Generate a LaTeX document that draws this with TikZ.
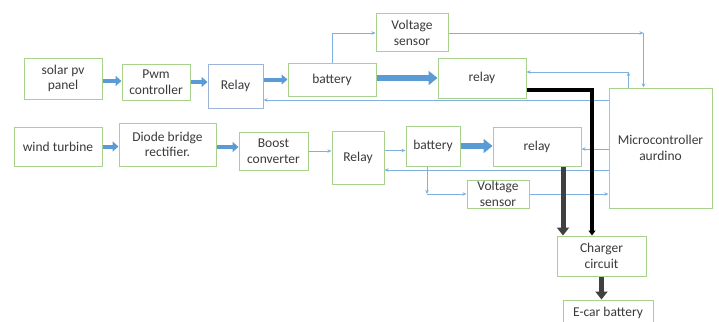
\documentclass[tikz,border=0pt]{standalone}
\usepackage{fontspec}
\setmainfont{Carlito}
\usetikzlibrary{arrows.meta,calc}
\definecolor{gbord}{HTML}{A9D18E}
\definecolor{bbord}{HTML}{9DB3D9}
\definecolor{ablue}{HTML}{5B9BD5}
\definecolor{lblue}{HTML}{7FB0E0}
\definecolor{dgray}{HTML}{404040}
\definecolor{txt}{HTML}{3A3A3A}
\begin{document}
\begin{tikzpicture}[x=1pt,y=-1pt,
 box/.style={draw=gbord, line width=1pt, fill=white, inner sep=0pt, align=center, font=\fontsize{13.5}{15.5}\selectfont, text=txt},
 thinarr/.style={draw=lblue, line width=0.8pt, -{Stealth[length=4pt,width=3.5pt]}},
 fatblue/.style={draw=ablue, line width=4pt, -{Triangle[length=6pt,width=10pt]}},
 hugeblue/.style={draw=ablue, line width=6.5pt, -{Triangle[length=9pt,width=14pt]}},
 blkarr/.style={draw=black, line width=3.5pt, -{Triangle[length=5pt,width=7pt]}},
 grayarr/.style={draw=dgray, line width=5pt, -{Triangle[length=8pt,width=12pt]}},
]
\useasboundingbox (0,0) rectangle (719,321);
\fill[white] (0,0) rectangle (719,321);

% row 1
\node[box, minimum width=78pt, minimum height=41pt] (solar) at (63,78.5) {solar pv\\panel};
\node[box, minimum width=68pt, minimum height=36pt] (pwm) at (156,82) {Pwm\\controller};
\node[box, draw=bbord, minimum width=55pt, minimum height=44pt] (relayA) at (235.5,86) {Relay};
\node[box, minimum width=88pt, minimum height=33pt] (batA) at (332,79.5) {battery};
\node[box, minimum width=72pt, minimum height=38pt] (vsA) at (412,33) {Voltage\\sensor};
\node[box, minimum width=88pt, minimum height=40pt] (relA) at (482,78) {relay};
\node[box, minimum width=103pt, minimum height=120pt] (micro) at (660.5,148) {Microcontroller\\aurdino};

% row 2
\node[box, minimum width=88pt, minimum height=39pt] (wind) at (58,146.5) {wind turbine};
\node[box, minimum width=97pt, minimum height=43pt] (diode) at (167.5,144.5) {Diode bridge\\rectifier.};
\node[box, minimum width=69pt, minimum height=38pt] (boost) at (273.5,151) {Boost\\converter};
\node[box, minimum width=52pt, minimum height=53pt] (relayB) at (358,157.5) {Relay};
\node[box, minimum width=54pt, minimum height=40pt] (batB) at (433,146) {battery};
\node[box, minimum width=88pt, minimum height=39pt] (relB) at (537,146.5) {relay};
\node[box, minimum width=62pt, minimum height=28pt] (vsB) at (498,194) {Voltage\\sensor};
\node[box, minimum width=89pt, minimum height=40pt] (charger) at (601.5,256) {Charger\\circuit};
\node[box, minimum width=90pt, minimum height=26pt] (ecar) at (608,313) {E-car battery};

% helper coordinates
\coordinate (c1) at (batA.north |- vsA.west);
\coordinate (c2) at ([xshift=35pt]micro.north west);
\coordinate (c3) at (c2 |- vsA.east);
\coordinate (c4) at ([xshift=20pt]micro.north west);
\coordinate (c5) at ([yshift=6pt]relA.east);
\coordinate (c6) at (c4 |- c5);
\coordinate (retA) at ([yshift=-14pt]relayA.east);
\coordinate (retB) at ([yshift=-12.5pt]relayB.east);
\coordinate (rbB) at ([yshift=-2.5pt]relB.east);
\coordinate (bBs) at ([xshift=-6pt]batB.south);
\coordinate (c7) at (bBs |- vsB.west);
\coordinate (rb2) at ([yshift=7pt]relayB.east);
\coordinate (s1) at ([yshift=-2.5pt]solar.east);
\coordinate (d1) at ([yshift=-2.5pt]diode.east);
\coordinate (blk0) at ([yshift=-12pt]relA.east);
\coordinate (blk1) at ([xshift=-9.5pt]charger.north);
\coordinate (gr0) at ([xshift=26pt]relB.south);

% thin control lines
\draw[thinarr] (batA.north) -- (c1) -- (vsA.west);
\draw[thinarr] (vsA.east) -- (c3);
\draw[thinarr] (c3) -- (c2);
\draw[thinarr] (c4) -- (c6);
\draw[thinarr] (c6) -- (c5);
\draw[thinarr] (retA -| micro.west) -- (retA);
\draw[thinarr] (boost.east) -- (boost.east -| relayB.west);
\draw[thinarr] (rb2) -- (rb2 -| batB.west);
\draw[thinarr] (rbB -| micro.west) -- (rbB);
\draw[thinarr] (retB -| micro.west) -- (retB);
\draw[thinarr] (bBs) -- (c7);
\draw[thinarr] (c7) -- (vsB.west);
\draw[thinarr] (vsB.east) -- (vsB.east -| micro.west);

% power arrows
\draw[fatblue] (s1) -- (s1 -| pwm.west);
\draw[fatblue] (pwm.east) -- (pwm.east -| relayA.west);
\draw[fatblue] (batA.west -| relayA.east) -- (batA.west);
\draw[hugeblue] (relA.west -| batA.east) -- (relA.west);
\draw[fatblue] (wind.east) -- (wind.east -| diode.west);
\draw[fatblue] (d1) -- (d1 -| boost.west);
\draw[hugeblue] (batB.east) -- (batB.east -| relB.west);

\draw[blkarr] (blk0) -| (blk1);
\draw[grayarr] (gr0) -- (gr0 |- charger.north);
\draw[grayarr] (charger.south) -- (charger.south |- ecar.north);
\end{tikzpicture}
\end{document}
